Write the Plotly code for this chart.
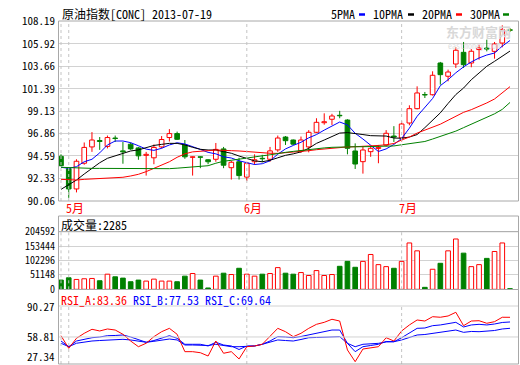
import plotly.graph_objects as go

dates = ["2013-04-30",
         "2013-05-01", "2013-05-02", "2013-05-03", "2013-05-06", "2013-05-07", "2013-05-08", "2013-05-09",
         "2013-05-10", "2013-05-13", "2013-05-14", "2013-05-15", "2013-05-16", "2013-05-17", "2013-05-20",
         "2013-05-21", "2013-05-22", "2013-05-23", "2013-05-24", "2013-05-27", "2013-05-28", "2013-05-29",
         "2013-05-30", "2013-05-31",
         "2013-06-03", "2013-06-04", "2013-06-05", "2013-06-06", "2013-06-07", "2013-06-10", "2013-06-11",
         "2013-06-12", "2013-06-13", "2013-06-14", "2013-06-17", "2013-06-18", "2013-06-19", "2013-06-20",
         "2013-06-21", "2013-06-24", "2013-06-25", "2013-06-26", "2013-06-27", "2013-06-28",
         "2013-07-01", "2013-07-02", "2013-07-03", "2013-07-04", "2013-07-05", "2013-07-08", "2013-07-09",
         "2013-07-10", "2013-07-11", "2013-07-12", "2013-07-15", "2013-07-16", "2013-07-17", "2013-07-18",
         "2013-07-19"]

open_ = [94.55, 93.3, 91.25, 93.85, 95.5, 96.15, 95.55, 96.4, 95.1, 95.78,
         95.4, 94.65, 94.4, 95.5, 96.45, 96.85, 95.7, 94.45, 94.5, 94.2,
         94.25, 95.3, 93.4, 94.0, 92.45, 94.0, 94.35, 94.25, 95.2, 96.5,
         96.2, 95.1, 95.5, 96.98, 97.95, 98.3, 98.7, 98.22, 95.09, 94.01,
         95.02, 95.35, 95.68, 96.6, 96.4, 97.92, 99.37, 100.8, 100.78, 103.99,
         102.65, 103.89, 105.07, 103.99, 105.35, 105.5, 105.17, 106.01, 107.35]
high = [94.75, 93.35, 94.25, 95.95, 97.0, 96.5, 96.65, 96.65, 96.0, 95.95,
        95.5, 95.0, 95.75, 96.6, 97.3, 97.05, 96.2, 94.55, 94.55, 94.25,
        95.9, 95.5, 94.1, 94.4, 94.0, 94.75, 94.7, 95.5, 96.65, 96.6,
        96.25, 96.55, 97.2, 98.4, 98.9, 98.85, 99.15, 98.3, 95.86, 95.6,
        95.55, 95.7, 97.2, 97.6, 98.1, 99.71, 101.63, 101.06, 103.15, 104.1,
        103.32, 105.58, 106.12, 105.4, 105.84, 106.35, 106.12, 107.8, 107.53]
low = [93.55, 90.35, 90.9, 93.7, 95.0, 95.2, 95.35, 96.0, 93.8, 95.2,
       94.2, 92.6, 93.75, 95.35, 96.05, 96.2, 94.3, 92.6, 93.35, 93.75,
       94.0, 93.35, 92.2, 92.2, 92.05, 93.7, 93.95, 94.0, 95.0, 95.7,
       95.7, 94.9, 94.95, 96.9, 97.75, 97.72, 98.4, 94.75, 93.27, 92.8,
       94.5, 93.85, 95.55, 96.0, 96.05, 97.69, 99.3, 100.45, 100.7, 101.8,
       102.14, 103.49, 103.49, 103.56, 104.33, 105.17, 104.43, 105.58, 107.13]
close = [93.6, 91.25, 94.05, 95.45, 96.2, 96.05, 96.45, 96.35, 95.0, 95.3,
         94.6, 94.75, 95.45, 96.25, 96.85, 96.27, 94.5, 94.5, 94.45, 94.0,
         95.25, 93.65, 93.95, 92.6, 93.85, 94.2, 94.3, 95.1, 96.4, 96.13,
         95.78, 96.2, 96.98, 97.99, 98.05, 98.63, 98.65, 95.36, 93.77, 95.19,
         95.36, 95.45, 96.88, 96.5, 97.82, 99.37, 100.96, 100.75, 102.75, 102.81,
         103.08, 105.28, 103.82, 105.18, 105.5, 105.4, 105.91, 107.36, 107.3]

volume = [32700, 40900, 35000, 37400, 38500, 30400, 53700, 44400, 39700, 26900,
          32700, 29200, 36200, 29200, 29200, 26900, 46700, 56000, 32700, 4700,
          46700, 57200, 52500, 74700, 53700, 46700, 53700, 56000, 77000, 57200,
          53700, 59500, 49000, 66500, 49000, 52500, 81700, 99200, 78200, 99200,
          123700, 87600, 80500, 74700, 99200, 164600, 136600, 7000, 71200, 92300,
          136600, 178700, 128400, 80500, 87600, 109800, 134300, 164600, 2285]

ma5 = [93.44, 93.34, 93.5, 94.0, 94.25, 94.9, 95.7, 96.1, 96.1, 95.93,
       95.62, 95.28, 95.15, 95.36, 95.7, 95.92, 95.8, 95.55, 95.25, 94.95,
       94.8, 94.5, 94.38, 94.1, 93.88, 93.72, 93.8, 94.1, 94.76, 95.3,
       95.65, 95.97, 96.42, 96.75, 97.2, 97.65, 98.02, 97.73, 96.88, 96.3,
       95.63, 95.04, 95.3, 95.75, 96.35, 97.4, 98.6, 99.5, 100.4, 101.7,
       102.3, 103.0, 103.6, 104.1, 104.5, 104.8, 105.0, 105.7, 106.27]
ma10 = [91.21, 91.65, 92.15, 92.76, 93.34, 93.9, 94.35, 94.58, 94.86, 95.09,
        95.2, 95.45, 95.65, 95.76, 95.86, 95.86, 95.7, 95.46, 95.26, 95.19,
        95.19, 95.02, 94.86, 94.58, 94.35, 94.09, 94.0, 94.15, 94.4, 94.65,
        94.8, 95.0, 95.36, 95.86, 96.2, 96.54, 96.9, 96.95, 96.88, 96.75,
        96.64, 96.6, 96.6, 96.4, 96.38, 96.5, 96.75, 97.45, 98.2, 98.95,
        99.9, 100.8, 101.46, 102.3, 102.98, 103.66, 104.16, 104.67, 105.2]
ma20 = [92.22, 92.15, 92.15, 92.22, 92.26, 92.3, 92.33, 92.35, 92.43, 92.56,
        92.73, 93.0, 93.34, 93.67, 94.0, 94.45, 94.8, 95.0, 95.09, 95.12,
        95.19, 95.19, 95.12, 95.09, 95.02, 94.96, 94.9, 94.86, 94.85, 94.9,
        94.95, 95.05, 95.12, 95.22, 95.3, 95.4, 95.46, 95.5, 95.52, 95.55,
        95.58, 95.65, 95.72, 95.85, 96.2, 96.5, 96.9, 97.2, 97.5, 97.8,
        98.2, 98.6, 99.0, 99.27, 99.6, 99.95, 100.35, 100.95, 101.6]
ma30 = [93.44, 93.4, 93.37, 93.35, 93.33, 93.33, 93.32, 93.3, 93.3, 93.28,
        93.27, 93.27, 93.27, 93.28, 93.3, 93.35, 93.4, 93.45, 93.5, 93.6,
        93.85, 94.05, 94.15, 94.28, 94.4, 94.51, 94.6, 94.7, 94.85, 94.95,
        95.05, 95.15, 95.25, 95.32, 95.4, 95.46, 95.5, 95.52, 95.52, 95.52,
        95.53, 95.55, 95.57, 95.6, 95.72, 95.82, 95.92, 96.05, 96.3, 96.55,
        96.8, 97.1, 97.45, 97.8, 98.15, 98.5, 98.85, 99.3, 100.0]

rsi_a = [60.4, 44.7, 57.2, 63.4, 68.4, 66.3, 68.8, 67.5, 62.2, 53.8,
         46.7, 51.0, 59.2, 65.4, 69.6, 62.2, 40.5, 40.5, 39.2, 35.1,
         53.8, 38.5, 40.5, 31.4, 46.7, 47.6, 49.7, 59.2, 69.6, 65.4,
         59.2, 63.4, 69.6, 74.6, 77.1, 80.9, 78.7, 42.6, 28.0, 43.8,
         45.5, 46.7, 57.9, 53.8, 66.3, 73.8, 80.0, 78.7, 84.1, 83.4,
         85.0, 89.6, 72.9, 78.7, 79.1, 75.9, 77.9, 83.4, 83.36]
rsi_b = [53.8, 46.7, 53.8, 56.3, 57.9, 58.8, 60.4, 60.7, 61.3, 58.8,
         55.1, 52.2, 54.4, 57.2, 60.4, 57.2, 49.7, 49.7, 49.7, 47.6,
         52.2, 48.8, 47.6, 43.2, 47.6, 47.6, 49.7, 53.8, 59.2, 58.8,
         57.9, 59.4, 61.3, 63.4, 65.4, 67.5, 67.5, 50.9, 40.5, 46.7,
         48.2, 49.7, 53.2, 52.9, 57.9, 63.8, 69.6, 70.0, 72.9, 73.8,
         75.0, 77.1, 71.3, 73.8, 74.6, 73.8, 75.0, 76.9, 77.53]
rsi_c = [51.0, 46.7, 51.0, 52.6, 53.8, 54.4, 55.1, 55.4, 55.9, 55.1,
         53.8, 52.2, 53.4, 55.1, 56.3, 55.1, 48.8, 48.8, 48.8, 48.2,
         49.7, 48.2, 46.7, 46.7, 47.6, 47.6, 49.7, 52.6, 55.1, 54.4,
         53.8, 55.7, 57.9, 58.2, 58.8, 59.2, 59.2, 50.9, 46.7, 49.7,
         50.1, 50.9, 52.6, 52.9, 55.1, 58.2, 61.3, 61.9, 63.4, 64.4,
         65.7, 67.5, 64.6, 65.7, 65.4, 66.3, 66.9, 68.8, 69.64]

price_ticks = [90.06, 92.33, 94.59, 96.86, 99.13, 101.39, 103.66, 105.92, 108.19]
volume_ticks = [0, 51148, 102296, 153444, 204592]
rsi_tick_labels = ["90.27", "58.81", "27.34"]
month_starts = ["2013-04-30", "2013-05-01", "2013-06-03", "2013-07-01"]
month_labels = {"2013-05-01": "5月", "2013-06-03": "6月", "2013-07-01": "7月"}

title_text = "原油指数[CONC] 2013-07-19"
vol_title = "成交量:2285"

RED, GREEN, BLUE = "#ff0000", "#008000", "#0000ff"
BORDER, GRID, DASH = "#a8a8a8", "#d2d2d2", "#c4c4c4"
FONT = "Noto Sans Mono CJK SC, Noto Sans CJK SC, sans-serif"

W, H = 520, 365
ML, MR, MT, MB = 59, 1, 21, 1
PW, PH = W - ML - MR, H - MT - MB


def px(x):
    return (x - ML) / PW


def py(y):
    return (H - MB - y) / PH


up = [c >= o for o, c in zip(open_, close)]
body_base = [min(o, c) for o, c in zip(open_, close)]
body_h = [max(abs(c - o), 0.05) for o, c in zip(open_, close)]
fill = ["white" if u else GREEN for u in up]
edge = [RED if u else GREEN for u in up]

fig = go.Figure()

# wicks
for flag, col in ((True, RED), (False, GREEN)):
    xs, ys = [], []
    for d, o, h, l, c, u in zip(dates, open_, high, low, close, up):
        if u != flag:
            continue
        top, bot = max(o, c), min(o, c)
        xs += [d, d, None, d, d, None]
        ys += [top, h, None, bot, l, None]
    fig.add_trace(go.Scatter(x=xs, y=ys, mode="lines", line=dict(color=col, width=1),
                             xaxis="x", yaxis="y", hoverinfo="skip"))

# bodies
fig.add_trace(go.Bar(x=dates, y=body_h, base=body_base, width=0.6,
                     marker=dict(color=fill, line=dict(color=edge, width=1)),
                     xaxis="x", yaxis="y"))

# moving averages
for ser, col in ((ma5, BLUE), (ma10, "#000000"), (ma20, RED), (ma30, GREEN)):
    fig.add_trace(go.Scatter(x=dates, y=ser, mode="lines", line=dict(color=col, width=1),
                             xaxis="x", yaxis="y"))

# volume
fig.add_trace(go.Bar(x=dates, y=volume, width=0.6,
                     marker=dict(color=fill, line=dict(color=edge, width=1)),
                     xaxis="x", yaxis="y2"))

# RSI
for ser, col in ((rsi_c, BLUE), (rsi_b, BLUE), (rsi_a, RED)):
    fig.add_trace(go.Scatter(x=dates, y=ser, mode="lines", line=dict(color=col, width=1),
                             xaxis="x", yaxis="y3"))

axis_font = dict(family=FONT, size=11, color="#000000")
vol_font = dict(family=FONT, size=10, color="#000000")

fig.update_layout(
    width=W, height=H, margin=dict(l=ML, r=MR, t=MT, b=MB, autoexpand=False),
    paper_bgcolor="white", plot_bgcolor="white", showlegend=False,
    barmode="overlay", bargap=0,
    xaxis=dict(type="category", categoryorder="array", categoryarray=dates,
               range=[-0.258, 59.16], showticklabels=False, showgrid=False,
               zeroline=False, showline=False, ticks="", anchor="y3", automargin=False),
    yaxis=dict(domain=[py(200.7), 1.0], range=[90.06, 108.24], tickvals=price_ticks,
               ticktext=[f"{v:.2f}" for v in price_ticks], showgrid=True, gridcolor=GRID,
               zeroline=False, showline=False, ticks="", tickfont=axis_font, anchor="x",
               automargin=False, ticklabelstandoff=3),
    yaxis2=dict(domain=[py(289.3), py(216)], range=[0, 260357], tickvals=volume_ticks,
                ticktext=[str(v) for v in volume_ticks], showgrid=True, gridcolor=GRID,
                zeroline=False, showline=False, ticks="", tickfont=vol_font, anchor="x",
                automargin=False, ticklabelstandoff=3),
    yaxis3=dict(domain=[0, py(290)], range=[25.12, 117.4], showticklabels=False,
                showgrid=False, zeroline=False, showline=False, ticks="", anchor="x",
                automargin=False),
)

shapes = []
# month dashed lines
for d in month_starts:
    for y0, y1 in ((21, 201), (231.7, 289.3), (306, 364)):
        shapes.append(dict(type="line", xref="x", yref="paper", x0=d, x1=d,
                           y0=py(y1), y1=py(y0), line=dict(color=DASH, width=1, dash="3px,3px")))
# RSI grid + separator
shapes.append(dict(type="line", xref="paper", yref="y3", x0=0, x1=1, y0=58.81, y1=58.81,
                   line=dict(color=GRID, width=1)))
shapes.append(dict(type="line", xref="paper", yref="paper", x0=0, x1=1, y0=py(306), y1=py(306),
                   line=dict(color=GRID, width=1)))
shapes.append(dict(type="line", xref="paper", yref="y2", x0=0, x1=1, y0=204592, y1=204592,
                   line=dict(color=BORDER, width=1)))
# panel borders
for y0, y1 in ((21, 201), (216, 289.5), (289.5, 364)):
    shapes.append(dict(type="rect", xref="paper", yref="paper", x0=px(58.5), x1=px(518.5),
                       y0=py(y1), y1=py(y0), line=dict(color=BORDER, width=1)))
# legend swatches
for x0, x1, col in ((359, 365, BLUE), (408, 414, "#000000"), (456, 462, RED), (503, 509, GREEN)):
    shapes.append(dict(type="line", xref="paper", yref="paper", x0=px(x0), x1=px(x1),
                       y0=py(14.5), y1=py(14.5), line=dict(color=col, width=2.5)))
fig.update_layout(shapes=shapes)

ann = []


def text(x, y, s, color="#000000", size=12, anchor="left", yanchor="middle", **kw):
    ann.append(dict(xref="paper", yref="paper", x=px(x), y=py(y), text=s, showarrow=False,
                    xanchor=anchor, yanchor=yanchor, borderpad=0,
                    font=dict(family=FONT, size=size, color=color), **kw))


text(61, 14, title_text)
text(330, 14, "5PMA")
text(372, 14, "10PMA")
text(421, 14, "20PMA")
text(469, 14, "30PMA")
text(59.5, 224.5, vol_title)
text(59.5, 299.5, "RSI_A:83.36", RED)
text(131.5, 299.5, "RSI_B:77.53", BLUE)
text(203.5, 299.5, "RSI_C:69.64", BLUE)
# RSI axis labels
text(55.5, 306, rsi_tick_labels[0], size=11, anchor="right")
text(55.5, 335.5, rsi_tick_labels[1], size=11, anchor="right")
text(55.5, 365, rsi_tick_labels[2], size=11, anchor="right", yanchor="bottom")
# watermark
text(478, 31.5, "<b>东方财富网</b>", "#d8d8d8", 13, "center")
text(474, 45.5, "eastmoney.com", "#dedede", 8, "center")
fig.update_layout(annotations=ann)
for d, lab in month_labels.items():
    fig.add_annotation(xref="x", yref="paper", x=d, y=py(207.5), text=lab, showarrow=False,
                       xanchor="left", yanchor="middle", xshift=-4, borderpad=0,
                       font=dict(family=FONT, size=12, color=RED))

fig.write_html("out.html", config={"displayModeBar": False, "staticPlot": True},
               post_script="document.body.style.margin='0';document.body.style.overflow='hidden';")
